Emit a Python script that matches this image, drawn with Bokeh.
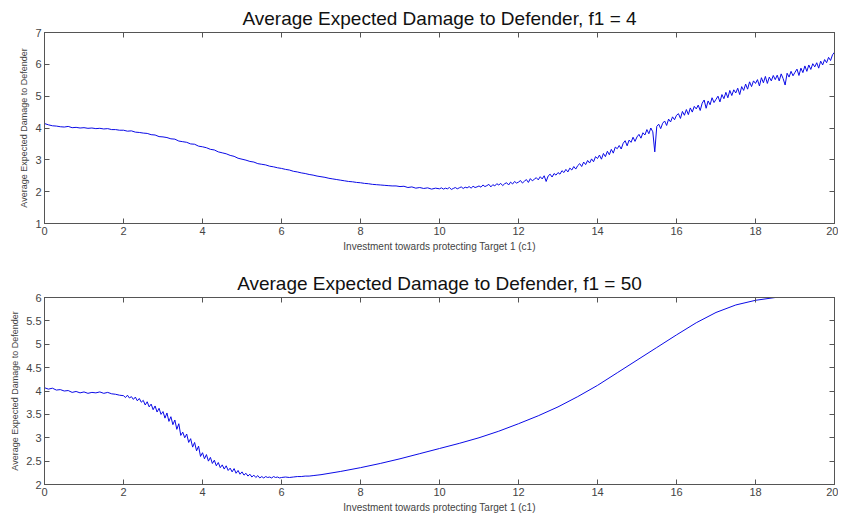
from bokeh.plotting import figure
from bokeh.layouts import column
from bokeh.models import Range1d, LinearAxis, FixedTicker
from bokeh.embed import file_html
from bokeh.resources import INLINE

# ---------------- data ----------------
# top panel: 0..10 every 0.1, then 10.05..20 every 0.05
x_top = [round(i * 0.1, 2) for i in range(101)] + [round(10 + i * 0.05, 2) for i in range(1, 201)]
y_top = [
    4.14, 4.10, 4.07, 4.06, 4.04, 4.03, 4.05, 4.01, 4.02, 4.00,
    4.01, 3.99, 4.00, 3.98, 3.99, 3.97, 3.98, 3.95, 3.95, 3.93,
    3.93, 3.90, 3.91, 3.87, 3.86, 3.84, 3.83, 3.79, 3.78, 3.73,
    3.72, 3.70, 3.66, 3.65, 3.59, 3.57, 3.55, 3.50, 3.49, 3.43,
    3.41, 3.38, 3.33, 3.31, 3.25, 3.22, 3.19, 3.14, 3.11, 3.05,
    3.02, 2.99, 2.95, 2.93, 2.88, 2.86, 2.84, 2.80, 2.78, 2.75,
    2.73, 2.70, 2.68, 2.64, 2.62, 2.59, 2.57, 2.54, 2.52, 2.49,
    2.47, 2.45, 2.42, 2.40, 2.38, 2.36, 2.34, 2.32, 2.31, 2.29,
    2.28, 2.26, 2.25, 2.23, 2.22, 2.21, 2.20, 2.19, 2.18, 2.18,
    2.16, 2.17, 2.13, 2.15, 2.11, 2.13, 2.10, 2.12, 2.08, 2.11,
    2.09,
    2.12, 2.08, 2.11, 2.09, 2.13, 2.07, 2.10, 2.13, 2.09, 2.12,
    2.15, 2.10, 2.14, 2.12, 2.16, 2.11, 2.17, 2.13, 2.15, 2.18,
    2.14, 2.21, 2.16, 2.19, 2.23, 2.15, 2.22, 2.18, 2.25, 2.21,
    2.26, 2.19, 2.25, 2.28, 2.21, 2.30, 2.24, 2.32, 2.27, 2.30,
    2.35, 2.27, 2.33, 2.38, 2.29, 2.41, 2.34, 2.39, 2.44, 2.37,
    2.47, 2.40, 2.50, 2.32, 2.49, 2.55, 2.46, 2.57, 2.52, 2.60,
    2.55, 2.66, 2.60, 2.70, 2.62, 2.74, 2.68, 2.79, 2.71, 2.82,
    2.88, 2.79, 2.93, 2.85, 2.98, 2.90, 3.03, 2.94, 3.10, 3.04,
    3.15, 3.02, 3.20, 3.10, 3.27, 3.16, 3.33, 3.21, 3.40, 3.35,
    3.45, 3.34, 3.52, 3.60, 3.44, 3.62, 3.55, 3.71, 3.58, 3.72,
    3.80, 3.68, 3.85, 3.78, 3.95, 3.82, 4.00, 3.88, 3.25, 4.05,
    4.12, 3.98, 4.15, 4.22, 4.08, 4.28, 4.19, 4.35, 4.26, 4.40,
    4.45, 4.30, 4.52, 4.40, 4.58, 4.42, 4.63, 4.50, 4.68, 4.60,
    4.72, 4.55, 4.78, 4.88, 4.62, 4.85, 4.73, 4.95, 4.80, 4.90,
    5.00, 4.82, 5.05, 4.92, 5.12, 4.95, 5.18, 5.02, 5.20, 5.10,
    5.25, 5.05, 5.30, 5.18, 5.38, 5.22, 5.45, 5.30, 5.48, 5.40,
    5.52, 5.32, 5.58, 5.42, 5.62, 5.40, 5.60, 5.48, 5.65, 5.52,
    5.66, 5.48, 5.70, 5.55, 5.35, 5.72, 5.60, 5.78, 5.64, 5.75,
    5.85, 5.65, 5.88, 5.74, 5.95, 5.78, 5.98, 5.84, 6.02, 5.92,
    6.05, 5.88, 6.10, 5.98, 6.15, 6.05, 6.22, 6.12, 6.30, 6.38,
]

# bottom panel: 0..2 every 0.1, 2.05..6 every 0.05, 6.1..7 every 0.1, 7.5..20 every 0.5
x_bot = ([round(i * 0.1, 2) for i in range(21)]
         + [round(2 + i * 0.05, 2) for i in range(1, 81)]
         + [round(6 + i * 0.1, 2) for i in range(1, 11)]
         + [round(7 + i * 0.5, 2) for i in range(1, 27)])
y_bot = [
    4.07, 4.04, 4.06, 4.02, 4.03, 4.00, 4.01, 3.97, 3.99, 3.96,
    3.98, 3.95, 3.97, 3.96, 3.98, 3.95, 3.97, 3.94, 3.93, 3.91,
    3.90,
    3.86, 3.91, 3.85, 3.88, 3.82, 3.87, 3.79, 3.84, 3.76, 3.80,
    3.70, 3.77, 3.66, 3.72, 3.60, 3.68, 3.55, 3.63, 3.50, 3.56,
    3.42, 3.53, 3.35, 3.45, 3.28, 3.38, 3.18, 3.30, 3.05, 3.12,
    3.00, 3.08, 2.90, 2.98, 2.80, 2.90, 2.72, 2.82, 2.60, 2.68,
    2.55, 2.64, 2.50, 2.58, 2.45, 2.52, 2.40, 2.47, 2.36, 2.42,
    2.33, 2.40, 2.30, 2.35, 2.27, 2.34, 2.24, 2.30, 2.22, 2.27,
    2.20, 2.24, 2.18, 2.22, 2.16, 2.20, 2.15, 2.19, 2.14, 2.17,
    2.14, 2.17, 2.15, 2.16, 2.14, 2.17, 2.15, 2.16, 2.14, 2.15,
    2.16, 2.15, 2.16, 2.17, 2.17, 2.18, 2.18, 2.19, 2.20, 2.21,
    2.28, 2.36, 2.45, 2.55, 2.66, 2.77, 2.88, 3.00, 3.14, 3.30,
    3.47, 3.66, 3.88, 4.12, 4.39, 4.66, 4.93, 5.20, 5.46, 5.68,
    5.84, 5.94, 6.00, 6.05, 6.09, 6.12,
]

x_ticks = [0, 2, 4, 6, 8, 10, 12, 14, 16, 18, 20]
y_ticks_top = [1, 2, 3, 4, 5, 6, 7]
y_ticks_bot = [2, 2.5, 3, 3.5, 4, 4.5, 5, 5.5, 6]

titles = ["Average Expected Damage to Defender, f1 = 4",
          "Average Expected Damage to Defender, f1 = 50"]
x_label = "Investment towards protecting Target 1 (c1)"
y_label = "Average Expected Damage to Defender"

FONT = "Liberation Sans"
AX = "#555555"
LINE = "#0a0ae6"


def style_axis(ax, ticks, labels=True):
    ax.ticker = FixedTicker(ticks=ticks)
    ax.axis_line_color = AX
    ax.major_tick_line_color = AX
    ax.major_tick_in = 5
    ax.major_tick_out = 0
    ax.minor_tick_line_color = None
    ax.major_label_text_font = FONT
    if labels:
        ax.major_label_text_color = "#444444"
        ax.major_label_text_font_size = "11px"
        ax.major_label_standoff = 3
    else:
        ax.major_label_text_color = None
        ax.major_label_text_font_size = "1px"
        ax.major_label_standoff = 0


def make(xs, ys, yr, yticks, title, h, bt, bb):
    p = figure(width=838, height=h, output_backend="svg", toolbar_location=None,
               x_range=Range1d(0, 20), y_range=Range1d(*yr),
               min_border_left=44, min_border_right=4,
               min_border_top=bt, min_border_bottom=bb)
    p.title.text = title
    p.title.align = "center"
    p.title.text_font = FONT
    p.title.text_font_size = "19px"
    p.title.text_font_style = "normal"
    p.title.text_color = "#111111"
    p.title.standoff = 8
    p.xgrid.visible = False
    p.ygrid.visible = False
    p.outline_line_color = AX
    style_axis(p.xaxis[0], x_ticks)
    style_axis(p.yaxis[0], yticks)
    p.xaxis[0].axis_label = x_label
    p.yaxis[0].axis_label = y_label
    p.xaxis[0].axis_label_text_font_size = "10px"
    p.yaxis[0].axis_label_text_font_size = "9px"
    for ax in (p.xaxis[0], p.yaxis[0]):
        ax.axis_label_text_font = FONT
        ax.axis_label_text_font_style = "normal"
        ax.axis_label_text_color = "#444444"
        ax.axis_label_standoff = 3
    top_ax = LinearAxis()
    style_axis(top_ax, x_ticks, labels=False)
    p.add_layout(top_ax, "above")
    right_ax = LinearAxis()
    style_axis(right_ax, yticks, labels=False)
    p.add_layout(right_ax, "right")
    p.line(xs, ys, line_color=LINE, line_width=1)
    return p


p1 = make(x_top, y_top, (1, 7), y_ticks_top, titles[0], 262, 32, 39)
p2 = make(x_bot, y_bot, (2, 6), y_ticks_bot, titles[1], 253, 35, 28)

layout = column(p1, p2, spacing=0)
open("out.html", "w").write(file_html(layout, INLINE))
